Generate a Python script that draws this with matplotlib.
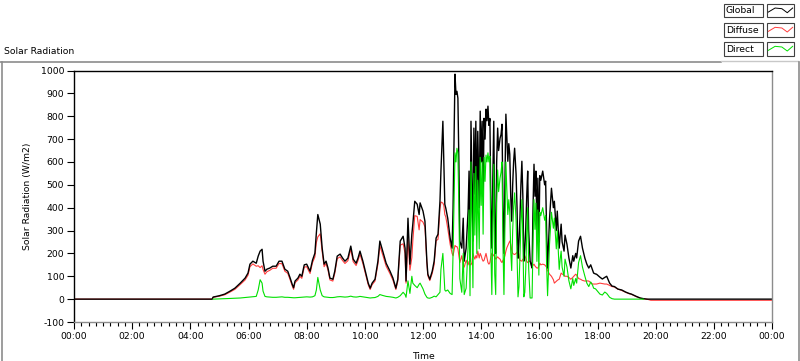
import numpy as np
import matplotlib.pyplot as plt
from matplotlib.lines import Line2D
from matplotlib.patches import Rectangle

plt.rcParams['font.family'] = 'DejaVu Sans'
plt.rcParams['axes.unicode_minus'] = False
FS = 6.7
nan = np.nan

# ---- data (W/m2); nan = no direct reading at night ----
night_t = ["00:00", "04:45"]
night_glob = [0, 0]
night_diff = [0, 0]
night_dir = [nan, nan]

morning_t = ["04:47", "05:00", "05:11", "05:22", "05:32", "05:43", "05:53", "05:59", "06:03", "06:09",
             "06:16", "06:20", "06:24", "06:28", "06:30", "06:34", "06:38", "06:44", "06:50", "06:57",
             "07:03", "07:09", "07:15", "07:21", "07:26", "07:30", "07:33", "07:36", "07:42", "07:46",
             "07:50", "07:55", "08:00", "08:07", "08:12", "08:17", "08:20", "08:23", "08:28", "08:32",
             "08:36", "08:40", "08:44", "08:48", "08:54", "08:58", "09:03", "09:09", "09:14", "09:19",
             "09:25", "09:31", "09:36", "09:42", "09:46", "09:50", "09:56", "10:02", "10:07", "10:11",
             "10:15", "10:21", "10:27", "10:31", "10:37", "10:44", "10:52", "10:58"]
morning_glob = [9, 15, 22, 35, 48, 70, 92, 114, 153, 166,
                157, 188, 210, 218, 166, 122, 131, 136, 144, 144,
                166, 166, 131, 122, 92, 66, 50, 79, 92, 109,
                100, 150, 153, 122, 170, 201, 290, 370, 328, 223,
                153, 166, 136, 92, 87, 122, 188, 197, 180, 166,
                179, 232, 175, 157, 180, 210, 166, 114, 70, 48,
                70, 87, 166, 254, 210, 157, 122, 92]
morning_diff = [8, 13, 19, 31, 43, 64, 84, 105, 142, 154,
                144, 146, 138, 146, 130, 109, 120, 126, 135, 135,
                156, 155, 122, 113, 84, 59, 43, 72, 84, 100,
                91, 140, 142, 112, 159, 185, 248, 272, 286, 207,
                142, 156, 127, 84, 79, 113, 177, 185, 169, 156,
                168, 218, 164, 147, 169, 197, 155, 105, 63, 42,
                63, 79, 153, 233, 193, 144, 111, 83]
morning_dir = [0, 1, 2, 3, 4, 5, 7, 8, 9, 10,
               12, 40, 85, 70, 35, 12, 10, 9, 8, 8,
               9, 10, 8, 8, 7, 6, 6, 6, 7, 8,
               8, 9, 10, 9, 10, 15, 40, 95, 40, 15,
               10, 9, 8, 7, 7, 8, 10, 11, 10, 9,
               10, 13, 10, 9, 10, 12, 10, 8, 6, 5,
               6, 7, 12, 20, 16, 12, 10, 8]

noon_t = ["11:04", "11:08", "11:13", "11:19", "11:23", "11:25", "11:29", "11:33", "11:37", "11:39",
          "11:43", "11:48", "11:52", "11:54", "12:00", "12:04", "12:06", "12:08", "12:10", "12:14",
          "12:19", "12:23", "12:27", "12:31", "12:35", "12:37", "12:41", "12:43", "12:45", "12:47",
          "12:51", "12:56"]
noon_glob = [48, 87, 254, 275, 223, 79, 354, 153, 284, 328,
             428, 415, 370, 421, 385, 341, 254, 166, 109, 87,
             122, 166, 267, 284, 428, 560, 778, 603, 415, 398,
             354, 267]
noon_diff = [42, 78, 236, 242, 200, 70, 270, 126, 182, 255,
             365, 362, 303, 348, 337, 316, 236, 156, 102, 81,
             112, 151, 255, 262, 395, 425, 420, 410, 370, 360,
             310, 240]
noon_dir = [5, 8, 15, 30, 20, 8, 80, 25, 100, 70,
            60, 50, 65, 70, 45, 22, 15, 8, 5, 4,
            8, 13, 10, 20, 30, 130, 200, 120, 40, 35,
            40, 25]

peak_t = ["13:00", "13:02", "13:06", "13:08", "13:10", "13:12", "13:14", "13:16", "13:20", "13:23",
          "13:25", "13:29", "13:33", "13:35", "13:37", "13:39", "13:41", "13:43", "13:45", "13:47",
          "13:49", "13:51", "13:53", "13:56"]
peak_glob = [223, 398, 984, 896, 909, 879, 603, 254, 223, 354,
             166, 223, 385, 560, 166, 778, 516, 254, 748, 459,
             778, 385, 734, 400]
peak_diff = [200, 190, 235, 230, 230, 220, 190, 160, 190, 150,
             140, 170, 150, 165, 150, 150, 160, 200, 185, 175,
             190, 180, 210, 180]
peak_dir = [20, 200, 640, 600, 660, 640, 400, 90, 30, 200,
            20, 48, 230, 390, 15, 600, 350, 50, 550, 280,
            580, 200, 520, 220]

aft_t = ["13:58", "14:00", "14:02", "14:04", "14:06", "14:08", "14:10", "14:12", "14:14", "14:16",
         "14:18", "14:20", "14:22", "14:24", "14:26", "14:28", "14:30", "14:32", "14:34", "14:36",
         "14:39", "14:41", "14:43", "14:45", "14:47", "14:49", "14:51", "14:53", "14:55", "14:57",
         "14:59", "15:01", "15:03", "15:05", "15:07", "15:09", "15:12", "15:14", "15:16", "15:18",
         "15:20", "15:22", "15:24", "15:26", "15:28", "15:30", "15:32", "15:34", "15:36", "15:38",
         "15:41", "15:43", "15:45", "15:47", "15:49", "15:51", "15:53", "15:55", "15:57", "15:59",
         "16:01"]
aft_glob = [822, 600, 778, 450, 791, 700, 831, 780, 844, 760,
            790, 400, 223, 520, 778, 300, 200, 600, 748, 650,
            704, 720, 765, 400, 200, 500, 809, 700, 603, 680,
            634, 450, 341, 500, 603, 660, 547, 400, 179, 250,
            354, 500, 603, 450, 166, 220, 310, 450, 560, 300,
            166, 150, 136, 400, 590, 450, 560, 300, 529, 250,
            540]
aft_diff = [200, 190, 175, 166, 170, 185, 200, 180, 160, 153,
            160, 185, 200, 197, 190, 185, 175, 180, 185, 180,
            175, 165, 160, 170, 175, 190, 210, 225, 235, 245,
            254, 240, 215, 200, 197, 195, 200, 205, 210, 195,
            170, 168, 166, 175, 170, 190, 180, 165, 160, 165,
            166, 158, 150, 148, 153, 145, 140, 136, 136, 145,
            157]
aft_dir = [620, 410, 600, 284, 620, 515, 630, 600, 640, 600,
           625, 215, 20, 320, 590, 110, 20, 420, 565, 470,
           530, 555, 600, 230, 20, 310, 600, 475, 370, 435,
           380, 210, 125, 300, 405, 465, 345, 195, 10, 55,
           185, 330, 435, 275, 10, 30, 130, 285, 400, 135,
           5, 5, 5, 250, 435, 305, 420, 165, 390, 105,
           380]

late_t = ["16:03", "16:07", "16:11", "16:13", "16:15", "16:17", "16:21", "16:25", "16:29", "16:31",
          "16:35", "16:37", "16:39", "16:41", "16:43", "16:45", "16:47", "16:51", "16:53", "16:57",
          "17:01", "17:05", "17:09", "17:11", "17:15", "17:17", "17:21", "17:25", "17:29", "17:34",
          "17:38", "17:42", "17:46", "17:50", "17:52", "17:56", "17:58"]
late_glob = [520, 560, 500, 516, 300, 136, 350, 485, 400, 428,
             300, 385, 300, 223, 280, 328, 250, 210, 280, 240,
             180, 136, 190, 166, 200, 180, 254, 275, 223, 179,
             153, 136, 150, 125, 114, 110, 109]
late_diff = [150, 153, 150, 145, 140, 125, 109, 100, 85, 70,
             78, 82, 85, 87, 100, 114, 110, 105, 100, 100,
             95, 87, 95, 100, 109, 105, 90, 87, 82, 79,
             80, 79, 72, 66, 66, 66, 66]
late_dir = [365, 400, 345, 365, 150, 15, 240, 380, 310, 355,
            220, 300, 210, 130, 175, 210, 140, 100, 175, 140,
            80, 45, 90, 60, 90, 70, 160, 190, 140, 100,
            70, 55, 75, 60, 48, 45, 40]

eve_t = ["18:05", "18:10", "18:15", "18:19", "18:25", "18:30", "18:35", "18:42", "18:50", "18:58",
         "19:05", "19:10", "19:20", "19:28", "19:35", "19:42", "19:50", "24:00"]
eve_glob = [96, 88, 95, 100, 70, 57, 55, 44, 40, 31, 25, 22, 12, 5, 2, 0, 0, 0]
eve_diff = [70, 68, 66, 66, 60, 55, 53, 44, 38, 30, 24, 21, 11, 4, 1, 0, -5, -5]
eve_dir = [22, 18, 31, 25, 8, 2, 0, 0, 0, 0, 0, 0, 0, 0, 0, nan, nan, nan]


def hours(ts):
    return [int(t[:2]) + int(t[3:]) / 60 for t in ts]


t = hours(night_t + morning_t + noon_t + peak_t + aft_t + late_t + eve_t)
glob = night_glob + morning_glob + noon_glob + peak_glob + aft_glob + late_glob + eve_glob
diff = night_diff + morning_diff + noon_diff + peak_diff + aft_diff + late_diff + eve_diff
direct = night_dir + morning_dir + noon_dir + peak_dir + aft_dir + late_dir + eve_dir

W, H = 800, 361
fig = plt.figure(figsize=(W / 100, H / 100), dpi=100)


def fx(x):
    return x / W


def fy(y):
    return 1 - y / H


ax = fig.add_axes([fx(74), fy(322), fx(772) - fx(74), fy(70.5) - fy(322)])

ax.plot(t, diff, color='#ff3c3c', lw=0.8, zorder=1)
ax.plot(t, glob, color='black', lw=1.0, zorder=2)
ax.plot(t, direct, color='#00e000', lw=0.8, zorder=3)

ax.set_xlim(0, 24)
ax.set_ylim(-100, 1000)
ax.set_yticks(range(-100, 1001, 100))
ax.set_xticks(range(0, 25, 2))
ax.set_xticklabels(['%02d:00' % (h % 24) for h in range(0, 25, 2)])
ax.set_xticks(np.arange(0, 24.01, 0.25), minor=True)
ax.tick_params(axis='both', which='major', length=5, width=0.8, labelsize=FS, pad=2)
ax.tick_params(axis='x', which='minor', length=3, width=0.8)

for s in ['top', 'left']:
    ax.spines[s].set_color('black')
    ax.spines[s].set_linewidth(1.0)
for s in ['right', 'bottom']:
    ax.spines[s].set_color('#8c8c8c')
    ax.spines[s].set_linewidth(1.0)

ax.set_ylabel('Solar Radiation (W/m2)', fontsize=FS)
ax.set_xlabel('Time', fontsize=FS)
ax.yaxis.set_label_coords((32 - 74) / 698, 0.5)
ax.xaxis.set_label_coords(0.5, (322 - 352) / 251.5)

# outer panel frame
fig.add_artist(Line2D([fx(0), fx(721)], [fy(62), fy(62)], color='#8c8c8c', lw=1.2))
fig.add_artist(Line2D([fx(721), fx(798)], [fy(61), fy(61)], color='#c8c8c8', lw=1.0))
fig.add_artist(Line2D([fx(1.5), fx(1.5)], [fy(62), fy(361)], color='#8c8c8c', lw=1.2))
fig.add_artist(Line2D([fx(798.5), fx(798.5)], [fy(62), fy(361)], color='#8c8c8c', lw=1.2))

fig.text(fx(4), fy(51), 'Solar Radiation', fontsize=FS, ha='left', va='center')

# legend
names = ['Global', 'Diffuse', 'Direct']
colors = ['black', '#ff3c3c', '#00e000']
tops = [4, 23.3, 42.3]
zig = [(0.05, 0.6), (0.3, 0.3), (0.55, 0.35), (0.75, 0.65), (0.95, 0.3)]
for name, col, y0 in zip(names, colors, tops):
    fig.add_artist(Rectangle((fx(724), fy(y0 + 13.4)), fx(763) - fx(724), fy(y0) - fy(y0 + 13.4),
                             fill=False, edgecolor='#404040', lw=0.8))
    fig.add_artist(Rectangle((fx(767), fy(y0 + 13.4)), fx(794) - fx(767), fy(y0) - fy(y0 + 13.4),
                             fill=False, edgecolor='#404040', lw=0.8))
    fig.text(fx(726), fy(y0 + 6.9), name, fontsize=FS, ha='left', va='center')
    fig.add_artist(Line2D([fx(767 + p[0] * 27) for p in zig],
                          [fy(y0 + p[1] * 13.4) for p in zig], color=col, lw=0.7))

fig.savefig('out.png', dpi=100)
